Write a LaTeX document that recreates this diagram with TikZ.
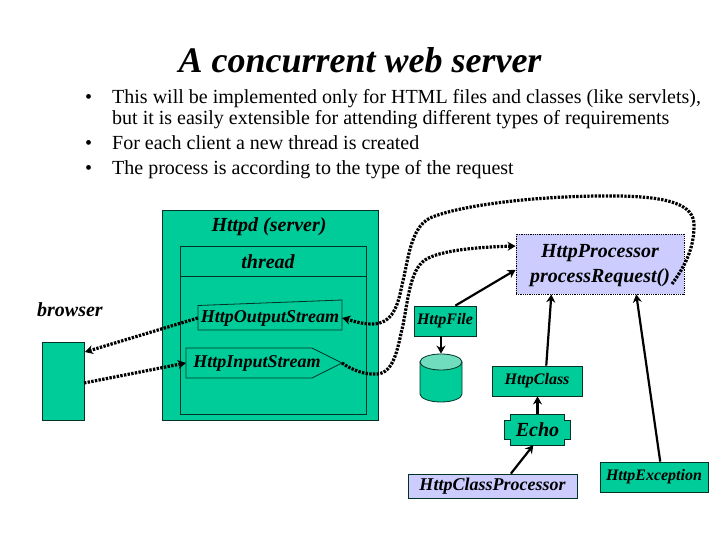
\documentclass[tikz,border=0pt]{standalone}
\usepackage{fontspec}
\setmainfont{Liberation Serif}
\usetikzlibrary{positioning,arrows.meta,shapes.geometric}
\definecolor{servergreen}{HTML}{00CC99}
\definecolor{lidgreen}{HTML}{70DDBE}
\definecolor{proclav}{HTML}{CCCCFF}
\definecolor{edgedark}{HTML}{003326}
\tikzset{
  label20/.style={font=\fontsize{20}{22}\selectfont\bfseries\itshape,inner sep=0pt},
  label18/.style={font=\fontsize{18}{20}\selectfont\bfseries\itshape,inner sep=0pt},
  label16/.style={font=\fontsize{16}{18}\selectfont\bfseries\itshape,inner sep=0pt},
  bodytext/.style={font=\fontsize{20}{22}\selectfont,anchor=base west,inner sep=0pt},
  greenbox/.style={draw=edgedark,fill=servergreen,line width=0.8pt,inner sep=0pt},
  outline/.style={draw=edgedark,line width=0.8pt},
  flow/.style={line width=3.2pt,dash pattern=on 2.4pt off 1.3pt},
  solidflow/.style={line width=2.2pt},
  tip/.style={-{Stealth[length=8pt,width=9pt]}}
}
\begin{document}
\begin{tikzpicture}[x=1pt,y=-1pt]
  \useasboundingbox (0,0) rectangle (720,540);
  % title and bullet list
  \node[font=\fontsize{36}{38}\selectfont\bfseries\itshape,inner sep=0pt,anchor=base] (title) at (360,73) {A concurrent web server};
  \foreach \y in {104,149.5,175} {
    \node[bodytext] (bullet\y) at (85,\y) {•};
  }
  \node[bodytext] (line1) at (112,104) {This will be implemented only for HTML files and classes (like servlets),};
  \node[bodytext] (line2) at (112,124.5) {but it is easily extensible for attending different types of requirements};
  \node[bodytext] (line3) at (112,149.5) {For each client a new thread is created};
  \node[bodytext] (line4) at (112,175) {The process is according to the type of the request};
  % server with its thread
  \node[greenbox,minimum width=216,minimum height=210] (server) at (270,315) {};
  \node[label20] (serverlabel) at (269,227) {Httpd (server)};
  \node[outline,minimum width=186,minimum height=168,inner sep=0pt] (thread) at (273,330) {};
  \draw[outline] (180,276) -- (366,276);
  \node[label20] (threadlabel) at (268,262) {thread};
  % browser
  \node[label20] (browserlabel) at (70,310) {browser};
  \node[greenbox,minimum width=42,minimum height=78] (browser) at (63,381) {};
  \coordinate (browserout) at (85,352);
  \coordinate (browserin) at (84,383);
  % streams
  \draw[outline] (198,305.5) -- (342,300) -- (342,330) -- (198,330) -- cycle;
  \node[label18,minimum width=144,minimum height=26] (output) at (270,318) {HttpOutputStream};
  \draw[outline] (186,348) -- (312,348) -- (342,363) -- (312,378) -- (186,378) -- cycle;
  \node[label18,minimum width=142,minimum height=30] (input) at (257,363) {HttpInputStream};
  \coordinate (inputtip) at (342,363);
  % right hand classes
  \node[draw=black,densely dotted,fill=proclav,line width=0.8pt,minimum width=168,minimum height=60,inner sep=0pt] (processor) at (600,264) {};
  \node[label20,align=center,font=\fontsize{20}{25}\selectfont\bfseries\itshape] (proclabel) at (600,266) {HttpProcessor\\processRequest()};
  \coordinate (procout) at (672,284);
  \node[greenbox,label16,draw=edgedark,minimum width=62,minimum height=30] (file) at (445,321) {HttpFile};
  % disk
  \draw[outline,fill=servergreen] (420,362) -- (420,394) arc[start angle=180,end angle=0,x radius=21,y radius=8] -- (462,362) -- cycle;
  \node[draw=edgedark,fill=lidgreen,line width=0.8pt,ellipse,minimum width=42,minimum height=16,inner sep=0pt] (disk) at (441,362) {};
  \node[greenbox,label16,draw=edgedark,minimum width=90,minimum height=30] (class) at (537,381) {HttpClass};
  \draw[outline,fill=servergreen] (510,414) -- (564,414) -- (564,420) -- (570,420) -- (570,439) -- (564,439) -- (564,445) -- (510,445) -- (510,439) -- (504,439) -- (504,420) -- (510,420) -- cycle;
  \node[label20,minimum width=66,minimum height=31] (echo) at (537.5,429.5) {Echo};
  \node[draw=edgedark,fill=proclav,line width=0.8pt,label18,minimum width=169,minimum height=24] (classproc) at (492.5,486) {HttpClassProcessor};
  \node[greenbox,label16,draw=edgedark,minimum width=108,minimum height=30] (exception) at (654,477) {HttpException};
  % dotted calls
  \draw[flow,tip] (output.west) -- (browserout);
  \draw[flow,tip] (browserin) -- (input.west);
  \draw[flow,tip] (procout) .. controls (688,262) and (694,245) .. (694,225)
    .. controls (694,205) and (670,197) .. (620,196)
    .. controls (540,195) and (460,205) .. (430,218)
    .. controls (410,228) and (408,262) .. (402,285)
    .. controls (398,305) and (393,324) .. (372,324)
    .. controls (360,324) and (350,320) .. (output.east);
  \draw[flow,tip] (inputtip) .. controls (352,370) and (365,375) .. (377,374)
    .. controls (395,373) and (398,345) .. (403,325)
    .. controls (408,300) and (410,270) .. (425,260)
    .. controls (440,250) and (480,247) .. (processor.168);
  % solid arrows
  \draw[solidflow,tip] (file.56) -- (processor.184);
  \draw[solidflow,tip] (file.south -| disk.north) -- (disk.north);
  \draw[solidflow,tip] (class.59) -- (processor.212);
  \draw[solidflow,tip] (exception.68) -- (processor.320);
  \draw[solidflow,tip] (echo.north) -- (class.south -| echo.north);
  \draw[solidflow,tip] (classproc.34) -- (echo.255);
\end{tikzpicture}
\end{document}
